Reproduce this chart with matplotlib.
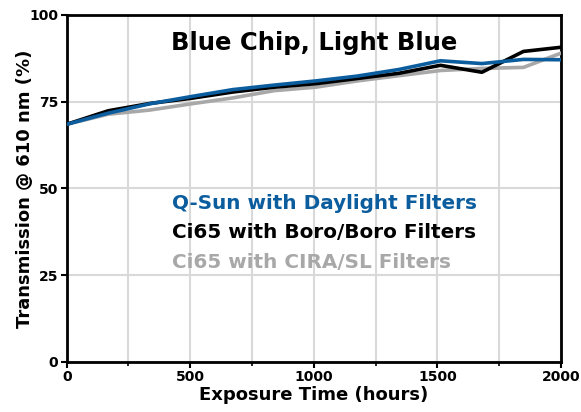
import matplotlib.pyplot as plt
from matplotlib.ticker import MultipleLocator

plt.rcParams["font.family"] = ["DejaVu Sans"]
plt.rcParams["font.weight"] = "bold"

# Daten
hours = [0, 168, 336, 504, 672, 840, 1008, 1176, 1344, 1512, 1680, 1848, 2000]
qsun = [68.5, 71.7, 74.4, 76.5, 78.5, 79.8, 81.0, 82.4, 84.3, 86.8, 86.0, 87.2, 87.1]
boro = [68.5, 72.4, 74.5, 76.0, 77.8, 79.2, 80.2, 81.7, 83.2, 85.5, 83.5, 89.5, 90.7]
cira = [68.5, 71.4, 72.6, 74.4, 76.1, 78.2, 79.2, 81.0, 82.5, 84.0, 84.6, 84.9, 89.0]

labels = ["Q-Sun with Daylight Filters", "Ci65 with Boro/Boro Filters", "Ci65 with CIRA/SL Filters"]
colors = ["#0b5d9e", "#000000", "#a8a8a8"]

fig = plt.figure(figsize=(5.81, 4.12), dpi=100)
ax = fig.add_axes([0.1148, 0.1214, 0.8508, 0.8422])

# grau zuerst, dann schwarz, dann blau oben drauf
ax.plot(hours, cira, color=colors[2], lw=2.6, zorder=3)
ax.plot(hours, boro, color=colors[1], lw=2.6, zorder=4)
ax.plot(hours, qsun, color=colors[0], lw=2.6, zorder=5)

ax.set_xlim(0, 2000)
ax.set_ylim(0, 100)
ax.xaxis.set_major_locator(MultipleLocator(500))
ax.xaxis.set_minor_locator(MultipleLocator(250))
ax.yaxis.set_major_locator(MultipleLocator(25))
ax.grid(True, which="both", color="#d9d9d9", lw=1.5, zorder=0)
ax.set_axisbelow(True)

for s in ax.spines.values():
    s.set_linewidth(2)
    s.set_color("black")

ax.tick_params(axis="both", which="major", labelsize=10, width=1.5, length=4, pad=2)
ax.tick_params(axis="x", which="minor", width=1.2, length=3)

ax.set_xlabel("Exposure Time (hours)", fontsize=13, fontweight="bold", labelpad=1)
ax.set_ylabel("Transmission @ 610 nm (%)", fontsize=13, fontweight="bold")
ax.yaxis.set_label_coords(-0.066, 0.5)

ax.text(0.5, 0.92, "Blue Chip, Light Blue", transform=ax.transAxes, ha="center", va="center",
        fontsize=17.5, fontweight="bold")

for i, (lab, c) in enumerate(zip(labels, colors)):
    ax.text(0.213, 0.458 - i * 0.085, lab, transform=ax.transAxes, ha="left", va="center",
            fontsize=14.4, fontweight="bold", color=c)

plt.savefig("out.png", dpi=100)
